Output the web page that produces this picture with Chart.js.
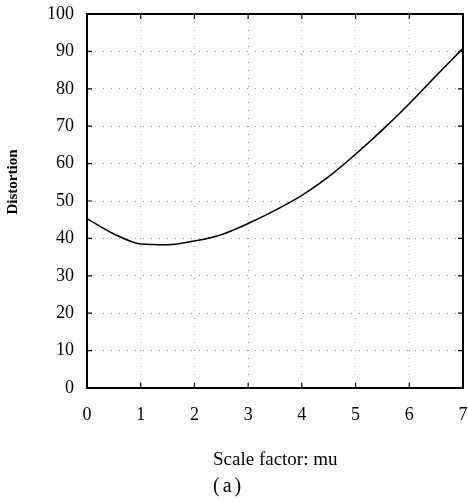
<!DOCTYPE html>
<html>
<head>
<meta charset="utf-8">
<script src="https://cdn.jsdelivr.net/npm/chart.js@4/dist/chart.umd.min.js"></script>
<style>
  html, body { margin: 0; padding: 0; background: #fff; }
  #wrap { width: 468px; height: 502px; position: relative; }
</style>
</head>
<body>
<div id="wrap"><canvas id="chart" width="468" height="502"></canvas></div>
<script>
// scale factor mu and the distortion
const muValues = [0, 0.5, 1, 1.5, 2, 2.5, 3, 3.5, 4, 4.5, 5, 5.5, 6, 6.5, 7];
const distortion = [45.3, 41.2, 38.5, 38.3, 39.3, 41, 44, 47.5, 51.5, 56.5, 62.5, 69, 76, 83.5, 90.8];
const xTicks = [0, 1, 2, 3, 4, 5, 6, 7];
const yTicks = [0, 10, 20, 30, 40, 50, 60, 70, 80, 90, 100];
const xTitle = 'Scale factor: mu';
const yTitle = 'Distortion';
const caption = '(a)';

const serif = '"Liberation Serif", "DejaVu Serif", serif';

const frame = {
  id: 'frame',
  afterDraw(chart) {
    const { ctx, chartArea: a, scales } = chart;
    ctx.save();
    ctx.strokeStyle = '#000';
    ctx.lineWidth = 2;
    ctx.strokeRect(a.left, a.top, a.right - a.left, a.bottom - a.top);
    // inward tick marks on all four sides
    ctx.lineWidth = 1.2;
    ctx.beginPath();
    xTicks.forEach(v => {
      const x = scales.x.getPixelForValue(v);
      ctx.moveTo(x, a.bottom); ctx.lineTo(x, a.bottom - 5);
      ctx.moveTo(x, a.top); ctx.lineTo(x, a.top + 5);
    });
    yTicks.forEach(v => {
      const y = scales.y.getPixelForValue(v);
      ctx.moveTo(a.left, y); ctx.lineTo(a.left + 5, y);
      ctx.moveTo(a.right, y); ctx.lineTo(a.right - 5, y);
    });
    ctx.stroke();

    ctx.fillStyle = '#000';
    ctx.textBaseline = 'middle';
    ctx.textAlign = 'left';
    ctx.font = '19px ' + serif;
    ctx.fillText(xTitle, 213, 460);
    ctx.font = '20px ' + serif;
    ctx.letterSpacing = '3px';
    ctx.fillText(caption, 213, 487);
    ctx.letterSpacing = '0px';

    ctx.translate(13, 182);
    ctx.rotate(-Math.PI / 2);
    ctx.textAlign = 'center';
    ctx.font = 'bold 15px ' + serif;
    ctx.fillText(yTitle, 0, 0);
    ctx.restore();
  }
};

new Chart(document.getElementById('chart'), {
  type: 'line',
  data: {
    datasets: [{
      data: muValues.map((m, i) => ({ x: m, y: distortion[i] })),
      borderColor: '#000',
      borderWidth: 1.6,
      pointRadius: 0,
      cubicInterpolationMode: 'monotone',
      fill: false
    }]
  },
  options: {
    responsive: false,
    animation: false,
    layout: { padding: { top: 14, right: 5, left: 0, bottom: 0 } },
    plugins: { legend: { display: false }, tooltip: { enabled: false } },
    scales: {
      x: {
        type: 'linear', min: 0, max: 7,
        afterBuildTicks: s => { s.ticks = xTicks.map(v => ({ value: v })); },
        afterFit: s => { s.height = 114; s.paddingLeft = 0; s.paddingRight = 0; },
        grid: { color: '#a0a0a0', lineWidth: 1, drawTicks: false },
        border: { display: false, dash: [1, 7] },
        ticks: { color: '#000', padding: 16, maxRotation: 0, font: { family: serif, size: 18 } }
      },
      y: {
        type: 'linear', min: 0, max: 100,
        afterBuildTicks: s => { s.ticks = yTicks.map(v => ({ value: v })); },
        afterFit: s => { s.width = 87; s.paddingTop = 0; s.paddingBottom = 0; },
        grid: { color: '#a0a0a0', lineWidth: 1, drawTicks: false },
        border: { display: false, dash: [1, 7] },
        ticks: { color: '#000', padding: 13, font: { family: serif, size: 18 } }
      }
    }
  },
  plugins: [frame]
});
</script>
</body>
</html>
